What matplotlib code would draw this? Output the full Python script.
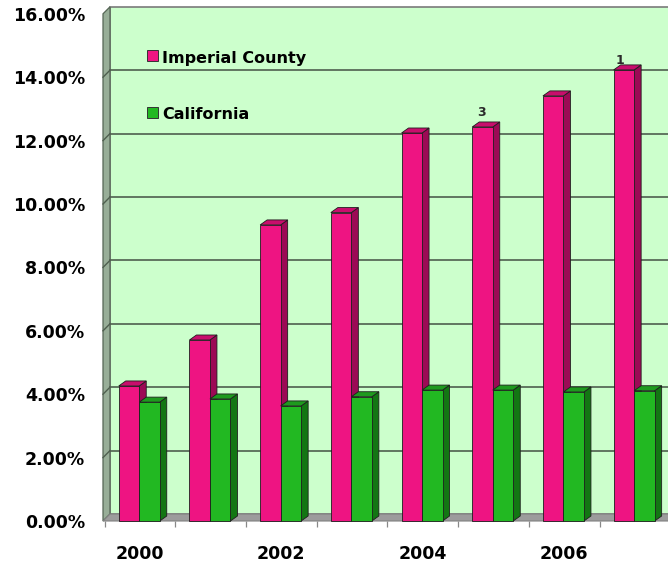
import matplotlib
matplotlib.use("Agg")
import matplotlib.pyplot as plt
from matplotlib.patches import Polygon, Rectangle

# ---- data -------------------------------------------------------------
years = [2000, 2001, 2002, 2003, 2004, 2005, 2006, 2007]
imperial = [4.26, 5.71, 9.34, 9.73, 12.24, 12.43, 13.41, 14.23]
california = [3.75, 3.85, 3.63, 3.92, 4.13, 4.13, 4.07, 4.11]
rank_labels = ["", "", "", "", "", "3", "", "1"]
year_labels = ["2000", "", "2002", "", "2004", "", "2006", ""]
y_ticks = [0, 2, 4, 6, 8, 10, 12, 14, 16]

# ---- styling ----------------------------------------------------------
W, H, DPI = 668, 565, 100
pink = dict(front="#EE1482", side="#9C0A55", top="#C80E6C")
green = dict(front="#22B822", side="#137613", top="#1E9A1E")
wall_color = "#CCFFCC"
side_wall_color = "#98AE98"
floor_color = "#9C9C9C"
grid_color = "#4F5F4F"
edge = "#1E1E1E"

fig = plt.figure(figsize=(W / DPI, H / DPI), dpi=DPI)
fig.patch.set_facecolor("white")

# front plane of the 3-D box: x=-0.5 .. 7.5 categories, y=0 .. 16 %
px_per_cat = 70.7
px_per_pct = 31.7
ax_left_px, ax_bottom_px = 104.6, 521.0
ax = fig.add_axes([ax_left_px / W, (H - ax_bottom_px) / H,
                   len(years) * px_per_cat / W, 16 * px_per_pct / H])
ax.set_xlim(-0.5, len(years) - 0.5)
ax.set_ylim(0, 16)
for s in ax.spines.values():
    s.set_visible(False)
ax.set_facecolor("none")

# oblique depth of walls and bars (in data units)
wall_dx, wall_dy = 7 / px_per_cat, 7 / px_per_pct
bar_dx, bar_dy = 7 / px_per_cat, 5 / px_per_pct

x0 = -0.5 - 1.6 / px_per_cat
x1 = len(years) - 0.5 + 0.5

# back wall
ax.add_patch(Polygon([(x0 + wall_dx, wall_dy), (x1 + wall_dx, wall_dy),
                      (x1 + wall_dx, 16 + wall_dy), (x0 + wall_dx, 16 + wall_dy)],
                     closed=True, facecolor=wall_color, edgecolor="#7A7A7A",
                     lw=1.2, clip_on=False, zorder=0))
# left side wall
ax.add_patch(Polygon([(x0, 0), (x0 + wall_dx, wall_dy),
                      (x0 + wall_dx, 16 + wall_dy), (x0, 16)],
                     closed=True, facecolor=side_wall_color, edgecolor="#556655",
                     lw=0.9, clip_on=False, zorder=0.5))
# floor
ax.add_patch(Polygon([(x0, 0), (x1, 0), (x1 + wall_dx, wall_dy), (x0 + wall_dx, wall_dy)],
                     closed=True, facecolor=floor_color, edgecolor="#808080",
                     lw=0.8, clip_on=False, zorder=0.5))

# gridlines on back wall and side wall
for v in y_ticks[1:-1]:
    ax.plot([x0 + wall_dx, x1 + wall_dx], [v + wall_dy, v + wall_dy],
            color=grid_color, lw=1.2, clip_on=False, zorder=0.6)
    ax.plot([x0, x0 + wall_dx], [v, v + wall_dy],
            color=grid_color, lw=1.0, clip_on=False, zorder=0.6)


def bar3d(xc, width, value, colors, z):
    xl, xr = xc - width / 2, xc + width / 2
    side = [(xr, 0), (xr + bar_dx, bar_dy), (xr + bar_dx, value + bar_dy), (xr, value)]
    top = [(xl, value), (xr, value), (xr + bar_dx, value + bar_dy), (xl + bar_dx, value + bar_dy)]
    ax.add_patch(Polygon(side, closed=True, facecolor=colors["side"], edgecolor=edge,
                         lw=0.6, zorder=z, clip_on=False))
    ax.add_patch(Polygon(top, closed=True, facecolor=colors["top"], edgecolor=edge,
                         lw=0.6, zorder=z, clip_on=False))
    ax.bar(xc, value, width, color=colors["front"], edgecolor=edge, lw=0.6,
           zorder=z + 0.1, clip_on=False)


bw = 0.29
off_ic, off_ca = -0.155, 0.135
for i, (a, b) in enumerate(zip(imperial, california)):
    bar3d(i + off_ic, bw, a, pink, 2 + i * 2)
    bar3d(i + off_ca, bw, b, green, 3 + i * 2)

# rank annotations above the Imperial County bars
rank_dx = [0, 0, 0, 0, 0, -1, 0, -4]
rank_dy = [0, 0, 0, 0, 0, 8, 0, 3]
for i, lab in enumerate(rank_labels):
    if lab:
        ax.annotate(lab, (i + off_ic, imperial[i]), xytext=(rank_dx[i] * 0.72, rank_dy[i] * 0.72),
                    textcoords="offset points", ha="center", va="bottom",
                    fontsize=9, fontweight="bold", color="#2A2A2A", zorder=40)

# axes ticks and labels
ax.set_yticks(y_ticks)
ax.set_yticklabels([f"{v:.2f}%" for v in y_ticks])
ax.tick_params(axis="y", length=0, pad=14, labelsize=12.5)
ax.set_xticks(range(len(years)))
ax.set_xticklabels(year_labels)
ax.tick_params(axis="x", length=0, pad=17, labelsize=12.5)
ax.set_xticks([i - 0.5 for i in range(len(years) + 1)], minor=True)
ax.tick_params(axis="x", which="minor", length=4.5, width=0.9, color="#888888")
for t in ax.get_xticklabels() + ax.get_yticklabels():
    t.set_fontweight("bold")

# legend
legend_items = [("Imperial County", pink["front"]), ("California", green["front"])]
legend_rows_px = [(50.0, 63.3), (107.3, 119.0)]
for (name, col), (box_top, baseline) in zip(legend_items, legend_rows_px):
    fig.add_artist(Rectangle((147 / W, (H - box_top - 10.5) / H), 10.5 / W, 10.5 / H,
                             transform=fig.transFigure, facecolor=col,
                             edgecolor="#333333", lw=0.7, zorder=50))
    fig.text(162 / W, (H - baseline) / H, name, fontsize=11.5, fontweight="bold",
             ha="left", va="baseline", color="black", zorder=50)

fig.savefig("out.png", dpi=DPI)
